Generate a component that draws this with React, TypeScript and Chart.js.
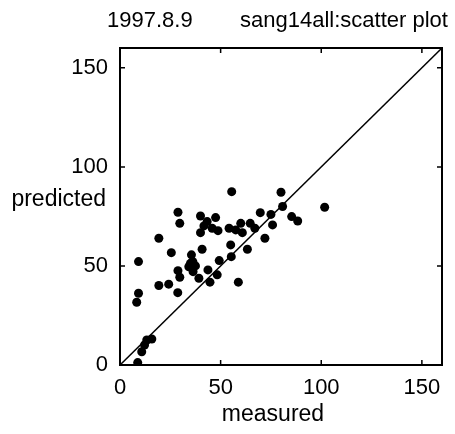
import React, { useEffect, useRef } from "react";
import { Chart, registerables } from "chart.js";

Chart.register(...registerables);

const TITLE_DATE = "1997.8.9";
const TITLE_NAME = "sang14all:scatter plot";
const X_LABEL = "measured";
const Y_LABEL = "predicted";
const AXIS_MIN = 0;
const AXIS_MAX = 160;
const TICKS = [0, 50, 100, 150];
const DIAGONAL = [0, 160];

const MEASURED = [
  55.5, 80, 80.8, 101.7, 69.7, 75, 85.3, 88.3, 75.8, 28.8,
  29.7, 40, 47.5, 43.3, 41.7, 45.8, 40, 48.7, 54.2, 57.5,
  60, 60.8, 64.7, 67, 72, 19.3, 55, 63.3, 40.8, 25.5,
  35.5, 55.3, 9.2, 49.3, 36.2, 34.2, 37.5, 28.8, 36.3, 43.7,
  48.3, 29.7, 39.2, 44.7, 58.8, 24.2, 19.3, 28.7, 9.2, 8.3,
  15.8, 13.3, 12.2, 10.8, 8.8, 35,
];
const PREDICTED = [
  87.5, 87.2, 80, 79.6, 76.9, 76, 74.9, 72.7, 70.7, 77.1,
  71.5, 75.2, 74.4, 72.4, 70.2, 69, 66.8, 67.8, 69, 68.2,
  71.5, 66.8, 71.5, 69, 64, 64, 60.6, 58.4, 58.4, 56.7,
  55.6, 54.7, 52.2, 52.7, 52.2, 49.6, 50, 47.6, 47.1, 48,
  45.5, 44.3, 43.8, 41.8, 41.8, 40.8, 40.1, 36.5, 36.2, 31.7,
  13.1, 12.6, 10.1, 6.7, 1.2, 51.3,
];

const FONT = "'Liberation Sans', Arial, Helvetica, sans-serif";

const framePlugin = {
  id: "frame",
  afterDraw(chart: any) {
    const { ctx, chartArea: a, scales } = chart;
    const xs = scales.x;
    const ys = scales.y;
    ctx.save();
    ctx.strokeStyle = "#000";
    ctx.lineWidth = 2;
    ctx.strokeRect(a.left, a.top, a.right - a.left, a.bottom - a.top);
    ctx.lineWidth = 1.5;
    const tl = 5;
    ctx.beginPath();
    for (const v of TICKS) {
      const px = xs.getPixelForValue(v);
      ctx.moveTo(px, a.bottom);
      ctx.lineTo(px, a.bottom - tl);
      ctx.moveTo(px, a.top);
      ctx.lineTo(px, a.top + tl);
      const py = ys.getPixelForValue(v);
      ctx.moveTo(a.left, py);
      ctx.lineTo(a.left + tl, py);
      ctx.moveTo(a.right, py);
      ctx.lineTo(a.right - tl, py);
    }
    ctx.stroke();

    ctx.fillStyle = "#000";
    ctx.font = `22px ${FONT}`;
    ctx.textBaseline = "alphabetic";
    ctx.textAlign = "left";
    ctx.fillText(TITLE_DATE, 107, 27);
    ctx.fillText(TITLE_NAME, 240, 27);

    ctx.font = `23px ${FONT}`;
    ctx.textAlign = "center";
    ctx.textBaseline = "middle";
    ctx.fillText(X_LABEL, (a.left + a.right) / 2 - 8, 415);
    ctx.textAlign = "right";
    ctx.fillText(Y_LABEL, 106, 200);
    ctx.restore();
  },
};

export default function App() {
  const ref = useRef<HTMLCanvasElement | null>(null);

  useEffect(() => {
    if (!ref.current) return;
    const points = MEASURED.map((x, i) => ({ x, y: PREDICTED[i] }));
    const chart = new Chart(ref.current, {
      type: "scatter",
      data: {
        datasets: [
          {
            type: "line",
            data: DIAGONAL.map((v) => ({ x: v, y: v })),
            borderColor: "#000",
            borderWidth: 1.5,
            pointRadius: 0,
            fill: false,
          } as any,
          {
            data: points,
            pointStyle: "circle",
            pointRadius: 4.5,
            pointBackgroundColor: "#000",
            pointBorderWidth: 0,
            backgroundColor: "#000",
          },
        ],
      },
      options: {
        animation: false,
        responsive: false,
        layout: { padding: { top: 48, right: 13, bottom: 0, left: 0 } },
        plugins: {
          legend: { display: false },
          tooltip: { enabled: false },
          title: { display: false },
        },
        scales: {
          x: {
            type: "linear",
            min: AXIS_MIN,
            max: AXIS_MAX,
            grid: { display: false, drawTicks: false },
            border: { display: false },
            afterBuildTicks: (s: any) => {
              s.ticks = TICKS.map((v) => ({ value: v }));
            },
            afterFit: (s: any) => {
              s.height = 69;
            },
            ticks: {
              color: "#000",
              padding: 10,
              maxRotation: 0,
              autoSkip: false,
              font: { family: FONT, size: 22 },
            },
          },
          y: {
            type: "linear",
            min: AXIS_MIN,
            max: AXIS_MAX,
            grid: { display: false, drawTicks: false },
            border: { display: false },
            afterBuildTicks: (s: any) => {
              s.ticks = TICKS.map((v) => ({ value: v }));
            },
            afterFit: (s: any) => {
              s.width = 120;
            },
            ticks: {
              color: "#000",
              padding: 12,
              autoSkip: false,
              font: { family: FONT, size: 22 },
            },
          },
        },
      },
      plugins: [framePlugin],
    });
    return () => chart.destroy();
  }, []);

  return (
    <div style={{ position: "absolute", left: 0, top: 0, width: 455, height: 434, background: "#fff" }}>
      <canvas ref={ref} width={455} height={434} />
    </div>
  );
}
